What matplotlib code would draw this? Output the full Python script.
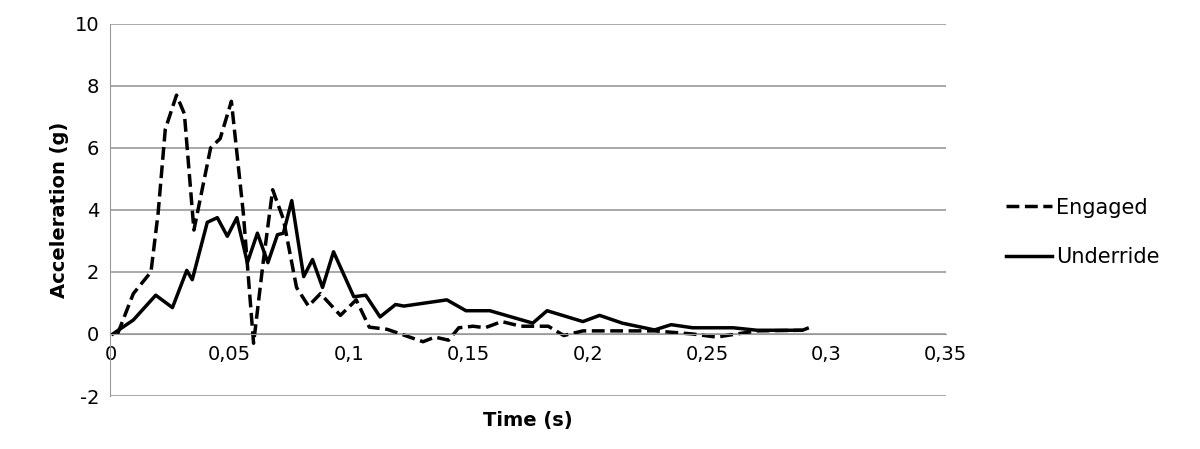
import numpy as np
import matplotlib.pyplot as plt

plt.rcParams['axes.unicode_minus'] = False

t_eng = [0.003, 0.0096, 0.017, 0.020, 0.023, 0.0277, 0.031, 0.035, 0.042, 0.046, 0.0507,
         0.0557, 0.060, 0.064, 0.068, 0.0725, 0.078, 0.083, 0.088, 0.0964, 0.103, 0.1085,
         0.116, 0.131, 0.136, 0.1417, 0.146, 0.152, 0.157, 0.164, 0.172, 0.1835, 0.190,
         0.198, 0.212, 0.228, 0.244, 0.254, 0.271, 0.290]
a_eng = [0.0, 1.3, 2.0, 3.9, 6.6, 7.7, 7.1, 3.35, 6.0, 6.3, 7.5,
         3.9, -0.3, 2.3, 4.65, 3.7, 1.5, 0.9, 1.3, 0.6, 1.1, 0.22,
         0.15, -0.25, -0.1, -0.2, 0.2, 0.25, 0.2, 0.4, 0.25, 0.25, -0.05,
         0.1, 0.1, 0.1, 0.0, -0.1, 0.1, 0.12]

t_und = [0.001, 0.0096, 0.019, 0.026, 0.032, 0.0343, 0.0406, 0.0448, 0.049, 0.053, 0.0574,
         0.0616, 0.066, 0.070, 0.0725, 0.076, 0.081, 0.0847, 0.0889, 0.0935, 0.102, 0.107,
         0.113, 0.1195, 0.123, 0.141, 0.149, 0.159, 0.177, 0.183, 0.198, 0.205, 0.2145,
         0.228, 0.235, 0.244, 0.261, 0.271, 0.290, 0.292]
a_und = [0.0, 0.45, 1.25, 0.85, 2.05, 1.75, 3.6, 3.75, 3.15, 3.75, 2.3,
         3.25, 2.3, 3.2, 3.25, 4.3, 1.85, 2.4, 1.5, 2.65, 1.2, 1.25,
         0.55, 0.95, 0.9, 1.1, 0.75, 0.75, 0.35, 0.75, 0.4, 0.6, 0.35,
         0.13, 0.3, 0.2, 0.2, 0.12, 0.12, 0.18]

fig = plt.figure(figsize=(12, 4.49), dpi=100)
ax = fig.add_axes([0.092, 0.118, 0.696, 0.829])
ax.plot(t_eng, a_eng, 'k--', lw=2.5, label='Engaged')
ax.plot(t_und, a_und, 'k-', lw=2.5, label='Underride')

ax.set_xlim(0, 0.35)
ax.set_ylim(-2, 10)
ax.set_yticks(range(-2, 11, 2))
xt = np.arange(0, 0.351, 0.05)
ax.set_xticks(xt)
ax.set_xticklabels(['0', '0,05', '0,1', '0,15', '0,2', '0,25', '0,3', '0,35'])
ax.yaxis.grid(True, color='#999999', lw=1.2)
ax.set_axisbelow(True)
ax.spines['top'].set_visible(False)
ax.spines['right'].set_visible(False)
ax.spines['bottom'].set_position(('data', 0))
ax.spines['bottom'].set_color('#999999')
ax.spines['left'].set_color('#999999')
ax.tick_params(length=0, labelsize=14, pad=8)
ax.set_xlabel('Time (s)', fontsize=14, fontweight='bold')
ax.set_ylabel('Acceleration (g)', fontsize=14, fontweight='bold')
ax.xaxis.set_label_coords(0.5, -0.04)
ax.legend(loc='center left', bbox_to_anchor=(1.05, 0.44), frameon=False,
          fontsize=15, handlelength=2.2, handletextpad=0.2, labelspacing=1.4)

fig.savefig('out.png')
